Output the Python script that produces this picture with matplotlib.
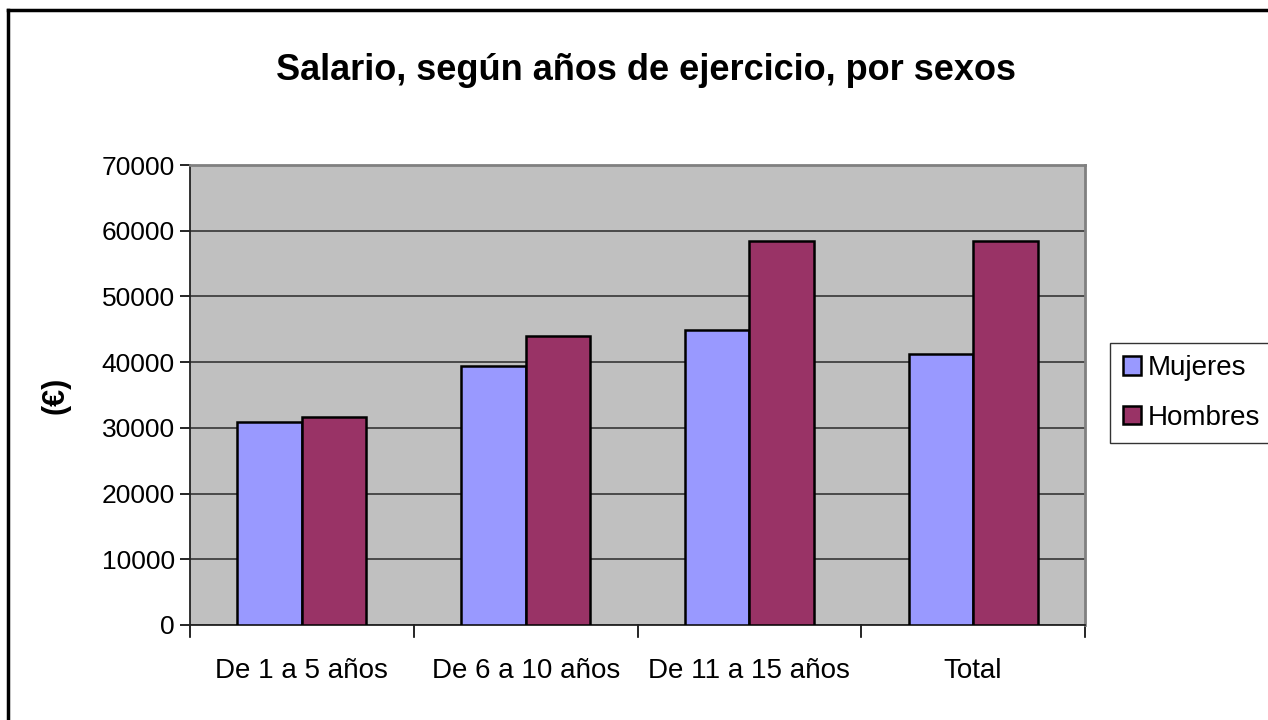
import numpy as np
import matplotlib.pyplot as plt
from matplotlib.lines import Line2D

plt.rcParams['font.family'] = ['Liberation Sans', 'DejaVu Sans']

categorias = ['De 1 a 5 años', 'De 6 a 10 años', 'De 11 a 15 años', 'Total']
mujeres = [30900, 39400, 44900, 41300]
hombres = [31600, 44000, 58400, 58400]
series = ['Mujeres', 'Hombres']
colores = ['#9999FF', '#993366']

fig = plt.figure(figsize=(12.68, 7.2), dpi=100)
ax = fig.add_axes([190 / 1268, 1 - 625 / 720, 895 / 1268, 460 / 720])

x = np.arange(len(categorias))
w = 0.288
ax.bar(x - w / 2, mujeres, w, color=colores[0], edgecolor='black', linewidth=1.8,
       label=series[0], zorder=3)
ax.bar(x + w / 2, hombres, w, color=colores[1], edgecolor='black', linewidth=1.8,
       label=series[1], zorder=3)

ax.set_facecolor('#C0C0C0')
ax.set_xlim(-0.5, len(categorias) - 0.5)
ax.set_ylim(0, 70000)
ax.set_yticks(range(0, 70001, 10000))
ax.yaxis.grid(True, color='#404040', linewidth=1.3, zorder=1)
ax.set_axisbelow(True)

ax.set_xticks(x)
ax.set_xticklabels(categorias, fontsize=20)
ax.tick_params(axis='x', length=0, pad=24)
# separadores de categoría
for b in np.arange(-0.5, len(categorias), 1.0):
    ax.plot([b, b], [0, -0.025], transform=ax.get_xaxis_transform(),
            color='black', lw=1.2, clip_on=False)
ax.tick_params(axis='y', labelsize=19, length=7, width=1.2, pad=4)

for s in ['top', 'right']:
    ax.spines[s].set_color('#808080')
    ax.spines[s].set_linewidth(2)
ax.spines['left'].set_color('#222222')
ax.spines['left'].set_linewidth(1.3)
ax.spines['bottom'].set_color('#222222')
ax.spines['bottom'].set_linewidth(1.3)

ax.set_ylabel('(€)', fontsize=22, fontweight='bold')
ax.yaxis.set_label_coords((70 - 190) / 895, 0.5)

fig.text(646 / 1268, 1 - 70 / 720, 'Salario, según años de ejercicio, por sexos',
         ha='center', va='center', fontsize=26, fontweight='bold')

leg = ax.legend(loc='center left', bbox_to_anchor=(1110 / 1268, 1 - 393 / 720),
                bbox_transform=fig.transFigure, fontsize=20, frameon=True,
                fancybox=False, edgecolor='black', handlelength=0.65,
                handleheight=0.65, handletextpad=0.25, labelspacing=0.85,
                borderpad=0.45, borderaxespad=0)
leg.get_frame().set_linewidth(1.0)

# borde del gráfico
fig.add_artist(Line2D([8 / 1268, 8 / 1268], [0, 1 - 10 / 720], transform=fig.transFigure,
                      color='black', lw=2.5))
fig.add_artist(Line2D([8 / 1268, 1], [1 - 10 / 720, 1 - 10 / 720], transform=fig.transFigure,
                      color='black', lw=2.5))

fig.savefig('out.png', dpi=100)
